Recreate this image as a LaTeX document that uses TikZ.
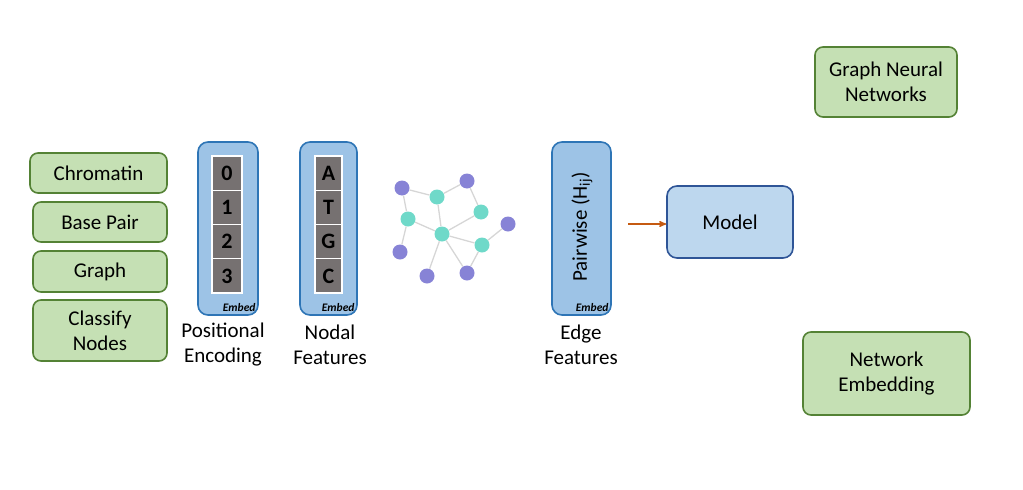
\documentclass[tikz,border=0pt]{standalone}
\usepackage{fontspec}
\setmainfont{Carlito}
\usepackage{tikz}
\usetikzlibrary{arrows}

\definecolor{taskfill}{HTML}{C5E0B4}
\definecolor{taskline}{HTML}{548235}
\definecolor{embfill}{HTML}{9DC3E6}
\definecolor{embline}{HTML}{2E75B6}
\definecolor{modelfill}{HTML}{BDD7EE}
\definecolor{modelline}{HTML}{2F5597}
\definecolor{cellgray}{HTML}{767171}
\definecolor{purplenode}{HTML}{8783D6}
\definecolor{tealnode}{HTML}{6FD9C9}
\definecolor{edgegray}{HTML}{D6D6D6}
\definecolor{arrorange}{HTML}{C55A11}

\begin{document}
\begin{tikzpicture}[x=1pt,y=-1pt,>=stealth',semithick,
  every node/.style={font=\fontsize{21}{25}\selectfont},
  task/.style={draw=taskline,fill=taskfill,line width=1.6pt,rounded corners=8pt,align=center,inner sep=0pt},
  embbox/.style={draw=embline,fill=embfill,line width=1.6pt,rounded corners=10pt,inner sep=0pt,minimum height=173pt},
  cell/.style={draw=white,fill=cellgray,line width=1.2pt,inner sep=0pt,minimum height=34.25pt,font=\fontsize{22}{24}\selectfont\bfseries},
  embtag/.style={anchor=south east,inner sep=0pt,font=\fontsize{11.5}{12}\selectfont\bfseries\itshape},
  caption/.style={align=center,inner sep=0pt},
  pnode/.style={circle,fill=purplenode,inner sep=0pt,minimum size=15pt},
  tnode/.style={circle,fill=tealnode,inner sep=0pt,minimum size=15pt},
  link/.style={draw=edgegray,line width=1.3pt}]
\useasboundingbox (0,0) rectangle (1023,490);

  % tasks on the left
  \node[task,minimum width=137pt,minimum height=40pt] (chrom)    at (98.5,173) {Chromatin};
  \node[task,minimum width=134pt,minimum height=40pt] (basepair) at (100,222)  {Base Pair};
  \node[task,minimum width=134pt,minimum height=41pt] (graph)    at (100,271.5) {Graph};
  \node[task,minimum width=134pt,minimum height=61pt] (classify) at (100,330.5) {Classify\\Nodes};

  % positional encoding
  \node[embbox,minimum width=60pt] (pos) at (228,228.5) {};
  \node[cell,minimum width=30pt] (pos0) at (227,173.1) {0};
  \node[cell,minimum width=30pt] (pos1) at (227,207.4) {1};
  \node[cell,minimum width=30pt] (pos2) at (227,241.6) {2};
  \node[cell,minimum width=30pt] (pos3) at (227,275.9) {3};
  \node[embtag] (posemb) at ([xshift=-3pt,yshift=4pt]pos.south east) {Embed};
  \node[caption] (poslabel) at (223,345) {Positional\\Encoding};

  % nodal features
  \node[embbox,minimum width=57pt] (nodal) at (328.5,228.5) {};
  \node[cell,minimum width=27pt] (nucA) at (328.5,173.1) {A};
  \node[cell,minimum width=27pt] (nucT) at (328.5,207.4) {T};
  \node[cell,minimum width=27pt] (nucG) at (328.5,241.6) {G};
  \node[cell,minimum width=27pt] (nucC) at (328.5,275.9) {C};
  \node[embtag] (nodalemb) at ([xshift=-3pt,yshift=4pt]nodal.south east) {Embed};
  \node[caption] (nodallabel) at (330,345) {Nodal\\Features};

  % small graph
  \node[pnode] (p1) at (402,188) {};
  \node[pnode] (p2) at (467,181) {};
  \node[pnode] (p3) at (508,224) {};
  \node[pnode] (p4) at (400,252) {};
  \node[pnode] (p5) at (427,276) {};
  \node[pnode] (p6) at (467,273) {};
  \node[tnode] (t1) at (437,197) {};
  \node[tnode] (t2) at (408,219) {};
  \node[tnode] (t3) at (481,212) {};
  \node[tnode] (t4) at (442,234) {};
  \node[tnode] (t5) at (482,245) {};

  \path[link] (p1) -- (t1)  (t1) -- (p2)  (p2) -- (t3)
              (p1) -- (t2)  (t2) -- (p4)  (t2) -- (t4)
              (t1) -- (t4)  (t4) -- (t3)  (t4) -- (t5)
              (t5) -- (p3)  (t5) -- (p6)  (t4) -- (p5)
              (t4) -- (p6);

  % edge features
  \node[embbox,minimum width=59pt] (edge) at (581.5,228.5) {};
  \node[rotate=90,inner sep=0pt] (pairwise) at (582,227) {Pairwise (H\textsubscript{ij})};
  \node[embtag] (edgeemb) at ([xshift=-3pt,yshift=4pt]edge.south east) {Embed};
  \node[caption] (edgelabel) at (581,345) {Edge\\Features};

  % model and outputs
  \node[draw=modelline,fill=modelfill,line width=1.6pt,rounded corners=10pt,
        minimum width=126pt,minimum height=72pt] (model) at (730,222) {Model};
  \coordinate (arrstart) at (628,224);
  \draw[->,draw=arrorange,line width=1.4pt] (arrstart) -- (model.west |- arrstart);

  \node[task,minimum width=142pt,minimum height=70pt] (gnn)    at (886,82)    {Graph Neural\\Networks};
  \node[task,minimum width=167pt,minimum height=83pt] (netemb) at (886.5,373.5) {Network\\Embedding};
\end{tikzpicture}
\end{document}
